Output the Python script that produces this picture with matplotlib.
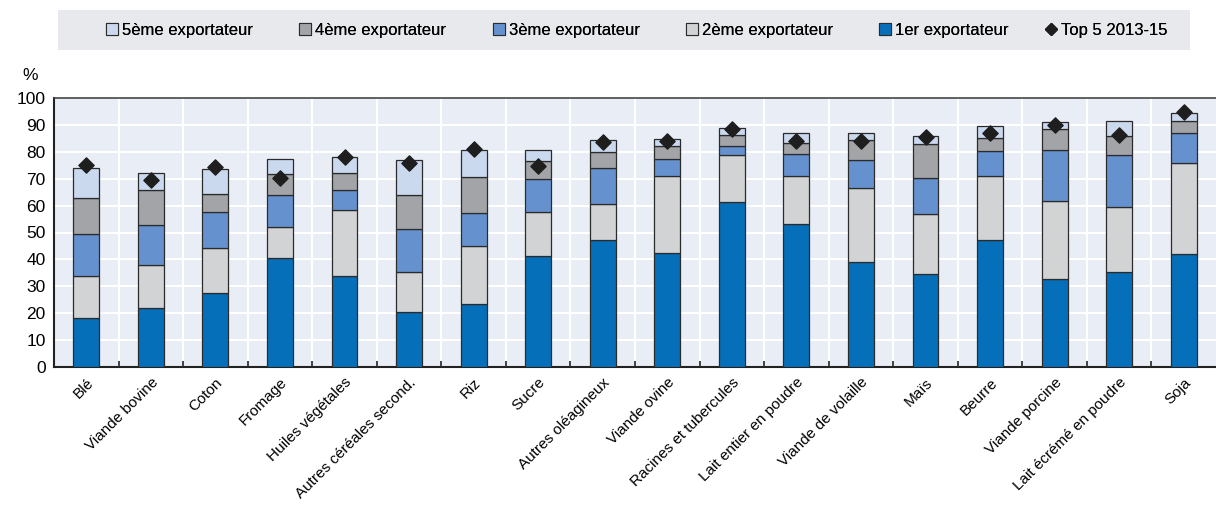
import matplotlib
import matplotlib.pyplot as plt
import numpy as np
from matplotlib.lines import Line2D
from matplotlib.patches import Patch

matplotlib.use("Agg")

plt.rcParams["font.family"] = ["Liberation Sans", "DejaVu Sans"]

categories = [
    "Blé", "Viande bovine", "Coton", "Fromage", "Huiles végétales",
    "Autres céréales second.", "Riz", "Sucre", "Autres oléagineux",
    "Viande ovine", "Racines et tubercules", "Lait entier en poudre",
    "Viande de volaille", "Maïs", "Beurre", "Viande porcine",
    "Lait écrémé en poudre", "Soja",
]
first = [18.1, 21.8, 27.6, 40.5, 33.7, 20.4, 23.5, 41.3, 47.2, 42.5, 61.3, 53.3, 38.9, 34.4, 47.3, 32.8, 35.4, 42.1]
second = [15.9, 16.1, 16.8, 11.4, 24.7, 15.0, 21.4, 16.3, 13.5, 28.6, 17.6, 17.6, 27.5, 22.4, 23.8, 28.9, 24.2, 33.9]
third = [15.6, 15.0, 13.2, 11.9, 7.4, 15.9, 12.3, 12.3, 13.4, 6.2, 3.1, 8.2, 10.7, 13.5, 9.3, 19.0, 19.1, 11.0]
fourth = [13.1, 12.9, 6.7, 7.9, 6.4, 12.8, 13.6, 6.8, 5.7, 5.0, 4.1, 4.2, 7.2, 12.6, 4.6, 7.9, 7.0, 4.4]
fifth = [11.4, 6.4, 9.3, 5.7, 5.7, 12.9, 9.7, 4.0, 4.5, 2.6, 2.6, 3.6, 2.8, 3.0, 4.5, 2.6, 5.6, 2.9]
top5_2013_15 = [75.2, 69.5, 74.5, 70.4, 78.2, 75.7, 81.2, 74.8, 83.6, 83.9, 88.5, 84.1, 84.1, 85.5, 87.1, 90.0, 86.2, 94.8]

series = [
    ("1er exportateur", first, "#0570b9"),
    ("2ème exportateur", second, "#d2d3d5"),
    ("3ème exportateur", third, "#6592ce"),
    ("4ème exportateur", fourth, "#a3a4a7"),
    ("5ème exportateur", fifth, "#cbd9ef"),
]

fig = plt.figure(figsize=(12.16, 5.08), dpi=100)
ax = fig.add_axes([54 / 1216, 1 - 367 / 508, (1216 - 54) / 1216, (367 - 98) / 508])
ax.set_facecolor("#e9edf5")

x = np.arange(len(categories))
bottom = np.zeros(len(categories))
for label, values, color in series:
    ax.bar(x, values, 0.4, bottom=bottom, color=color, edgecolor="#2b2b2b",
           linewidth=0.9, label=label, zorder=3)
    bottom += np.array(values)
ax.scatter(x, top5_2013_15, marker="D", s=60, color="#1e1e1e", zorder=4,
           label="Top 5 2013-15")

ax.set_xlim(-0.5, len(categories) - 0.5)
ax.set_ylim(0, 100)
ax.set_yticks(range(0, 101, 10))
ax.set_xticks(x)
ax.set_xticklabels(categories, rotation=45, ha="right", rotation_mode="anchor", fontsize=11)
ax.set_xticks(np.arange(0.5, len(categories) - 1, 1), minor=True)
ax.tick_params(axis="x", which="major", length=0, pad=6)
ax.tick_params(axis="x", which="minor", direction="in", length=4, width=1.2, color="#222222")
ax.tick_params(axis="y", length=0, labelsize=12.5, pad=6)
ax.grid(True, axis="y", color="white", linewidth=1.5, zorder=0)
ax.grid(True, axis="x", which="minor", color="white", linewidth=1.5, zorder=0)
ax.set_axisbelow(True)

for side in ["left", "bottom"]:
    ax.spines[side].set_color("#222222")
    ax.spines[side].set_linewidth(1.5)
ax.spines["top"].set_color("#444444")
ax.spines["top"].set_linewidth(1.2)
ax.spines["right"].set_visible(False)

fig.text(30 / 1216, 1 - 75 / 508, "%", fontsize=12.5, ha="center", va="center")

# legend band
band = plt.Rectangle((58 / 1216, 1 - 50 / 508), (1190 - 58) / 1216, 40 / 508,
                     transform=fig.transFigure, facecolor="#e8e9ec", edgecolor="none", zorder=0)
fig.patches.append(band)

handles = [Patch(facecolor=c, edgecolor="#2b2b2b", linewidth=0.8, label=l)
           for l, _, c in reversed(series)]
handles.append(Line2D([], [], marker="D", color="#1e1e1e", linestyle="none",
                      markersize=6, label="Top 5 2013-15"))
legend_x = [106, 299, 493, 686, 879, 1045]
for h, lx in zip(handles, legend_x):
    leg = fig.legend(handles=[h], loc="center left", bbox_to_anchor=(lx / 1216, 1 - 30 / 508),
                     frameon=False, fontsize=12, handlelength=0.7, handleheight=0.7,
                     handletextpad=0.25, borderpad=0, borderaxespad=0)
    fig.add_artist(leg)

fig.savefig("out.png", dpi=100)
